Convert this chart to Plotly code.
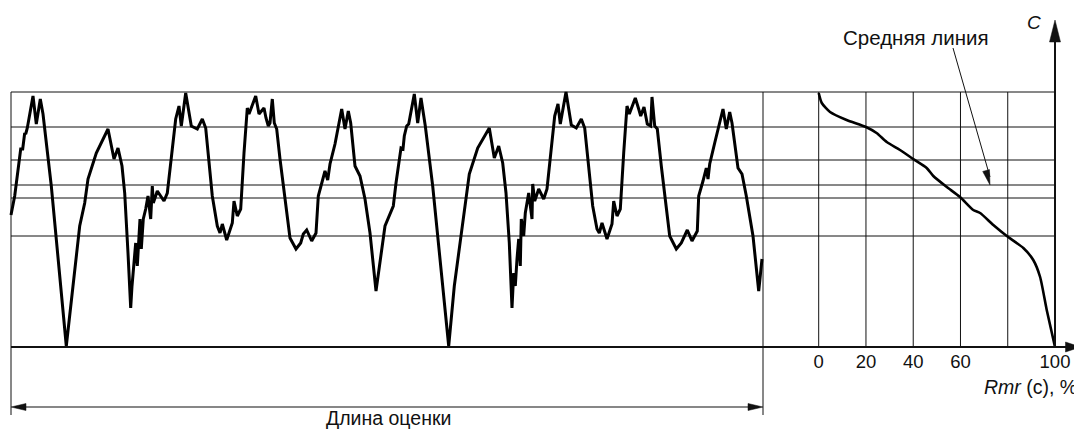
import math
import plotly.graph_objects as go

# ---------------- data ----------------
# Profile: horizontal position along the evaluation length, height z
profile_x = [
    0, 3.7, 9.7, 11.7, 13.7, 14.7, 16.3, 22, 25.3, 29.3, 32, 36.3, 40.3, 55.3, 62, 68.7, 73.7, 77, 85.3, 97,
    103, 107, 111, 113.7, 117, 119.7, 121,
    124.7, 126.3, 128, 129, 130.3, 132.3, 134.7, 137, 139.7, 141.3, 142.3, 146.3, 153, 156.3, 161.3, 164.7,
    168, 170.3, 174.7, 180.3, 186.3, 191.3, 194.7, 198, 201.3, 206.3, 209, 211.3, 215.7, 221.3, 223, 226.3,
    229.7, 233, 236.3, 238, 244.7, 248,
    250.7, 253, 255, 257.3, 259, 261.3, 263.3, 265.7, 269, 274, 279, 285, 289.7, 292.3, 295.7, 300.7, 305,
    307.3, 310.7, 314, 316.7, 319, 324, 330.7, 334, 337.3, 339.7, 344, 349, 354, 359, 365, 374, 377,
    382.3, 385, 390, 392, 393.3, 395.7, 397.7, 403.3, 406.7, 410, 414.3, 421.7, 437.7, 443.3, 450, 455,
    458.3, 466.7, 478.3, 483.3, 487.7, 491.7, 495, 498.3, 501,
    502.7, 504.3, 506, 507.7, 509.3, 510.3, 512.7, 514.3, 517.7, 519.3, 521, 521.7, 523.7, 527.7, 532.7,
    536, 540.3, 543.7, 547, 549.3, 555, 560.3, 565.3, 570.3, 573.7, 577.7, 581.7, 586, 588.3, 591, 596, 601,
    602.7, 606, 609.3, 612.7, 616, 618.3, 624.3, 627.7,
    629.7, 633, 636.3, 639.7, 641, 643.7, 646.3, 650.3, 654.3, 658.7, 665.3, 670.3, 676.3, 681, 686.3,
    687.7, 692, 695.3, 697, 698.7, 703.7, 712, 715.3, 718.7, 721, 727, 731, 735.3, 742, 747.7, 751,
]
profile_z = [
    132, 151, 198, 198, 214, 213, 219, 251, 223, 248, 233, 198, 161, 1, 61, 121, 144, 168, 194, 218,
    188, 199, 181, 154, 94, 39, 61,
    104, 81, 108, 128, 98, 128, 138, 151, 128, 161, 144, 156, 146, 154, 198, 228,
    241, 221, 254, 221, 218, 228, 219, 184, 151, 121, 114, 123, 107, 124, 146, 131,
    138, 194, 239, 233, 251, 233,
    236, 239, 229, 221, 224, 248, 224, 218, 188, 148, 109, 98, 104, 113, 117, 106, 114,
    151, 164, 176, 167, 183, 203, 238, 218, 236, 224, 181, 171, 148, 114, 56, 121, 129,
    141, 164, 199, 198, 211, 221, 223, 253, 224, 249, 221, 161, 1, 61, 111, 144,
    173, 199, 219, 189, 201, 184, 154, 104, 39,
    74, 61, 88, 108, 81, 128, 111, 134, 154, 143, 128, 163, 146, 158, 148,
    158, 201, 231, 243, 223, 255, 222, 219, 228, 219, 178, 141, 118, 114, 124, 108, 123,
    146, 131, 138, 194, 241, 233, 249, 238,
    231, 240, 223, 221, 250, 221, 218, 181, 148, 111, 98, 104, 117, 106, 116,
    151, 166, 179, 168, 183, 204, 238, 218, 235, 224, 179, 173, 151, 111, 56, 88,
]

# Material ratio curve Rmr(c) in %, and the height z it belongs to
rmr_pct = [0, 1.3, 4.8, 11.8, 20, 24.5, 28.8, 34.4, 40, 45.7, 48.5, 54.2, 59.8, 65.4, 68.3, 73.9,
           79.6, 86.6, 90.8, 93.7, 96.5, 100]
rmr_z = [254, 244, 235, 227, 220, 214, 205, 197, 188, 179, 171, 160, 150, 137, 134, 122,
         111, 99, 87, 70, 37, 0]

level_z = [255, 220, 187, 162, 149, 111]   # horizontal section lines
mean_z = 162                               # mean line level
rmr_grid = [0, 20, 40, 60, 80]
rmr_tickvals = [0, 20, 40, 60, 100]
rmr_ticktext = ["0", "20", "40", "60", "100"]
eval_length = 752

label_mean = "Средняя линия"
label_len = "Длина оценки"
label_c = "<i>C</i>"
label_rmr = "<i>Rmr</i> (c), %"

# ---------------- layout geometry (page pixels) ----------------
PAGE_W, PAGE_H = 1082, 430
BODY = 8                      # default page margin around the plot div
W, H = PAGE_W - BODY, PAGE_H - BODY
X0_PX = 11          # page column of profile x = 0 (1 unit = 1 px)
RMR0_PX = 818.7     # page column of Rmr = 0 %
RMR_PX = 2.363      # px per %
Z0_PX = 347         # page row of z = 0 (1 unit = 1 px)

x_range = [BODY - X0_PX, BODY + W - X0_PX]
x2_range = [(BODY - RMR0_PX) / RMR_PX, (BODY + W - RMR0_PX) / RMR_PX]
y_range = [Z0_PX - (BODY + H), Z0_PX - BODY]


def rmr_to_x(r):
    return RMR0_PX + RMR_PX * r - X0_PX


def px_to_rmr(px):
    return (px - RMR0_PX) / RMR_PX


INK = "#111111"
FONT = "Liberation Sans, Arial, sans-serif"

fig = go.Figure()
fig.add_trace(go.Scatter(x=profile_x, y=profile_z, mode="lines", xaxis="x", yaxis="y",
                         line=dict(color="black", width=3), hoverinfo="skip"))
fig.add_trace(go.Scatter(x=rmr_pct, y=rmr_z, mode="lines", xaxis="x2", yaxis="y",
                         line=dict(color="black", width=2.6, shape="spline", smoothing=0.6),
                         hoverinfo="skip"))

shapes = []
for z in level_z:
    shapes.append(dict(type="line", xref="x", yref="y", x0=0, x1=rmr_to_x(100), y0=z, y1=z,
                       line=dict(color=INK, width=1), layer="below"))
for r in rmr_grid:
    shapes.append(dict(type="line", xref="x2", yref="y", x0=r, x1=r, y0=0, y1=level_z[0],
                       line=dict(color=INK, width=1), layer="below"))
for xv in [0, eval_length]:
    shapes.append(dict(type="line", xref="x", yref="y", x0=xv, x1=xv, y0=-68, y1=level_z[0],
                       line=dict(color=INK, width=1), layer="below"))
# bottom axis (z = 0)
x_tip = px_to_rmr(PAGE_W - 1.5)
shapes.append(dict(type="line", xref="x", yref="y", x0=0, x1=rmr_to_x(x_tip) - 10, y0=0, y1=0,
                   line=dict(color=INK, width=2)))
# C axis (Rmr = 100)
c_tip = 327
shapes.append(dict(type="line", xref="x2", yref="y", x0=100, x1=100, y0=0, y1=c_tip - 15,
                   line=dict(color=INK, width=2)))
# dimension line for evaluation length
dim_z = -60
shapes.append(dict(type="line", xref="x", yref="y", x0=5, x1=eval_length - 5, y0=dim_z, y1=dim_z,
                   line=dict(color=INK, width=1.2)))
# leader to the mean line
m_start = (px_to_rmr(953), 299)
m_tip = (px_to_rmr(990), mean_z)
shapes.append(dict(type="line", xref="x2", yref="y", x0=m_start[0], y0=m_start[1],
                   x1=m_tip[0], y1=m_tip[1] + 8, line=dict(color=INK, width=1)))


def head(xref, xa, ya, path):
    return dict(type="path", xref=xref, yref="y", xsizemode="pixel", ysizemode="pixel",
                xanchor=xa, yanchor=ya, path=path, fillcolor=INK,
                line=dict(color=INK, width=0.5))


shapes.append(head("x2", 100, c_tip, "M0,0 L-5.5,-22 L5.5,-22 Z"))
shapes.append(head("x2", x_tip, 0, "M0,0 L-15,5 L-15,-5 Z"))
shapes.append(head("x", 0, dim_z, "M0,0 L15,3.5 L15,-3.5 Z"))
shapes.append(head("x", eval_length, dim_z, "M0,0 L-15,3.5 L-15,-3.5 Z"))
dxp = (m_tip[0] - m_start[0]) * RMR_PX
dyp = (m_tip[1] - m_start[1])
ln = math.hypot(dxp, dyp)
ux, uy = dxp / ln, dyp / ln
nx, ny = -uy, ux
L, hw = 15, 3.5
p1 = (-L * ux + hw * nx, -L * uy + hw * ny)
p2 = (-L * ux - hw * nx, -L * uy - hw * ny)
shapes.append(head("x2", m_tip[0], m_tip[1],
                   f"M0,0 L{p1[0]:.2f},{p1[1]:.2f} L{p2[0]:.2f},{p2[1]:.2f} Z"))

annotations = [
    dict(text=label_mean, xref="x2", yref="y", x=px_to_rmr(915.5), y=Z0_PX - 37, showarrow=False,
         font=dict(size=20.5, color=INK, family=FONT)),
    dict(text=label_c, xref="x2", yref="y", x=px_to_rmr(1034), y=Z0_PX - 22, showarrow=False,
         font=dict(size=19, color=INK, family=FONT)),
    dict(text=label_rmr, xref="x2", yref="y", x=px_to_rmr(1079), y=Z0_PX - 387, showarrow=False,
         xanchor="right", font=dict(size=19.5, color=INK, family=FONT)),
    dict(text=label_len, xref="x", yref="y", x=377, y=Z0_PX - 418, showarrow=False,
         font=dict(size=19.5, color=INK, family=FONT)),
]

fig.update_layout(
    width=W, height=H, margin=dict(l=0, r=0, t=0, b=0),
    paper_bgcolor="white", plot_bgcolor="white", showlegend=False,
    xaxis=dict(range=x_range, domain=[0, 1], visible=False, fixedrange=True),
    xaxis2=dict(range=x2_range, overlaying="x", anchor="free",
                position=(BODY + H - Z0_PX) / H,
                tickvals=rmr_tickvals, ticktext=rmr_ticktext, showgrid=False, zeroline=False,
                showline=False, ticks="", ticklabelstandoff=1,
                tickfont=dict(size=18.5, color=INK, family=FONT), fixedrange=True),
    yaxis=dict(range=y_range, domain=[0, 1], visible=False, fixedrange=True),
    shapes=shapes, annotations=annotations,
)

fig.write_html("out.html")
